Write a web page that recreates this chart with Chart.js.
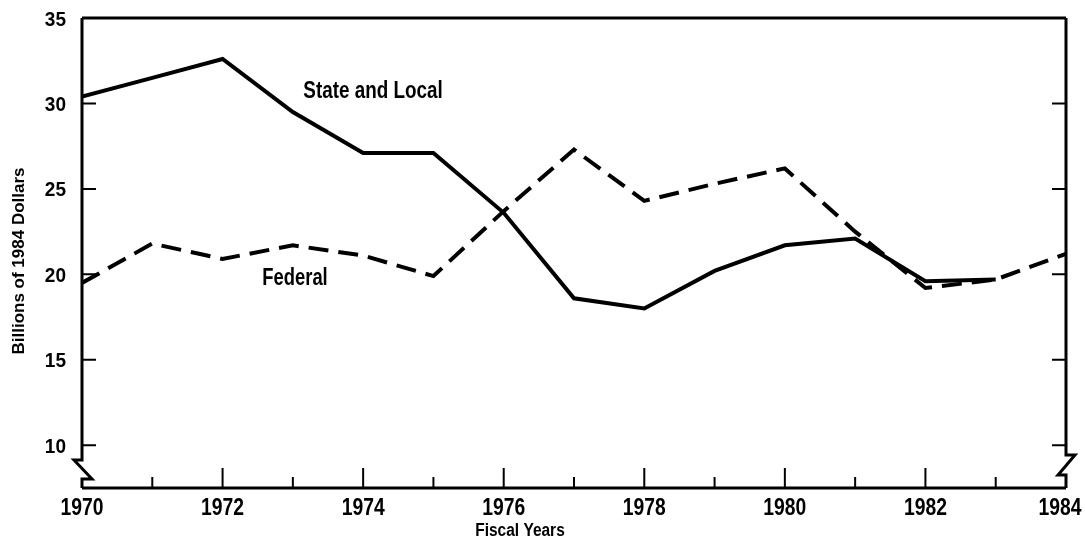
<!DOCTYPE html>
<html>
<head>
<meta charset="utf-8">
<script src="https://cdn.jsdelivr.net/npm/chart.js@4.4.1/dist/chart.umd.min.js"></script>
<style>
  html, body { margin: 0; padding: 0; background: #fff; }
  #wrap { width: 1085px; height: 539px; }
</style>
</head>
<body>
<div id="wrap"><canvas id="chart"></canvas></div>
<script>
// data (billions of 1984 dollars)
const years = [1970, 1971, 1972, 1973, 1974, 1975, 1976, 1977, 1978, 1979, 1980, 1981, 1982, 1983, 1984];
const stateLocal = [30.4, 31.5, 32.6, 29.5, 27.1, 27.1, 23.6, 18.6, 18.0, 20.2, 21.7, 22.1, 19.6, 19.7, null];
const federal = [19.5, 21.8, 20.9, 21.7, 21.1, 19.9, 23.7, 27.3, 24.3, 25.3, 26.2, 22.5, 19.2, 19.7, 21.2];
const yTicks = [10, 15, 20, 25, 30, 35];
const xLabels = [1970, 1972, 1974, 1976, 1978, 1980, 1982, 1984];

const FONT = "'Liberation Sans', Arial, sans-serif";

const toPoints = vals => years.map((yr, i) => ({ x: yr, y: vals[i] }));

// squeezed bold text, the original uses a condensed face
function squeezed(ctx, str, x, y, size, sx, align, rot) {
  ctx.save();
  ctx.translate(x, y);
  if (rot) ctx.rotate(rot);
  ctx.scale(sx, 1);
  ctx.font = 'bold ' + size + 'px ' + FONT;
  ctx.textAlign = align || 'center';
  ctx.textBaseline = 'middle';
  ctx.fillText(str, 0, 0);
  ctx.restore();
}

// frame, inward ticks, axis breaks, tick labels and line labels
const framePlugin = {
  id: 'framePlugin',
  afterDatasetsDraw(chart) {
    const { ctx, chartArea: a, scales: { x, y } } = chart;
    ctx.save();
    ctx.strokeStyle = '#000';
    ctx.fillStyle = '#000';
    ctx.lineWidth = 3;
    ctx.lineJoin = 'miter';

    // top + bottom
    ctx.beginPath();
    ctx.moveTo(a.left, a.top); ctx.lineTo(a.right, a.top);
    ctx.moveTo(a.left, a.bottom); ctx.lineTo(a.right, a.bottom);
    ctx.stroke();

    // left axis with break
    const b1 = a.bottom - 28, b2 = a.bottom - 9;
    ctx.beginPath();
    ctx.moveTo(a.left, a.top);
    ctx.lineTo(a.left, b1);
    ctx.lineTo(a.left - 8, b1);
    ctx.lineTo(a.left + 10, b2);
    ctx.lineTo(a.left, b2);
    ctx.lineTo(a.left, a.bottom);
    ctx.stroke();

    // right axis with break
    const r1 = a.bottom - 33, r2 = a.bottom - 13;
    ctx.beginPath();
    ctx.moveTo(a.right, a.top);
    ctx.lineTo(a.right, r1);
    ctx.lineTo(a.right + 9, r1);
    ctx.lineTo(a.right - 8, r2);
    ctx.lineTo(a.right, r2);
    ctx.lineTo(a.right, a.bottom);
    ctx.stroke();

    // y ticks pointing inward on both sides
    ctx.lineWidth = 2;
    ctx.beginPath();
    yTicks.forEach(v => {
      if (v >= 35) return;
      const py = y.getPixelForValue(v);
      ctx.moveTo(a.left, py); ctx.lineTo(a.left + 14, py);
      ctx.moveTo(a.right, py); ctx.lineTo(a.right - 14, py);
    });
    // x ticks, long on labelled years
    years.forEach(yr => {
      if (yr === years[0] || yr === years[years.length - 1]) return;
      const px = x.getPixelForValue(yr);
      const len = xLabels.includes(yr) ? 20 : 11;
      ctx.moveTo(px, a.bottom); ctx.lineTo(px, a.bottom - len);
    });
    ctx.stroke();

    // tick labels
    yTicks.forEach(v => {
      squeezed(ctx, String(v), a.left - 16, y.getPixelForValue(v) + 2, 20, 0.95, 'right');
    });
    xLabels.forEach(v => {
      const px = Math.min(x.getPixelForValue(v), chart.width - 25);
      squeezed(ctx, String(v), px, a.bottom + 21, 23, 0.84, 'center');
    });

    // axis titles
    squeezed(ctx, 'Fiscal Years', (a.left + a.right) / 2 - 54, a.bottom + 43, 18, 0.86, 'center');
    squeezed(ctx, 'Billions of 1984 Dollars', 19, 261, 17, 1.0, 'center', -Math.PI / 2);

    // series labels
    squeezed(ctx, 'State and Local', 373, 92, 23, 0.82, 'center');
    squeezed(ctx, 'Federal', 295, 279, 23, 0.8, 'center');
    ctx.restore();
  }
};

new Chart(document.getElementById('chart'), {
  type: 'line',
  data: {
    datasets: [
      {
        label: 'State and Local',
        data: toPoints(stateLocal),
        borderColor: '#000',
        borderWidth: 4,
        pointRadius: 0,
        tension: 0,
        spanGaps: false
      },
      {
        label: 'Federal',
        data: toPoints(federal),
        borderColor: '#000',
        borderWidth: 4,
        borderDash: [20, 10],
        pointRadius: 0,
        tension: 0
      }
    ]
  },
  options: {
    responsive: true,
    maintainAspectRatio: false,
    animation: false,
    layout: { padding: { top: 18, right: 19, left: 0, bottom: 0 } },
    plugins: { legend: { display: false }, tooltip: { enabled: false } },
    scales: {
      x: {
        type: 'linear',
        min: 1970,
        max: 1984,
        grid: { display: false },
        border: { display: false },
        ticks: { display: false },
        afterFit: s => { s.height = 51; }
      },
      y: {
        min: 7.5,
        max: 35,
        grid: { display: false },
        border: { display: false },
        ticks: { display: false },
        afterFit: s => { s.width = 82; }
      }
    }
  },
  plugins: [framePlugin]
});
</script>
</body>
</html>
